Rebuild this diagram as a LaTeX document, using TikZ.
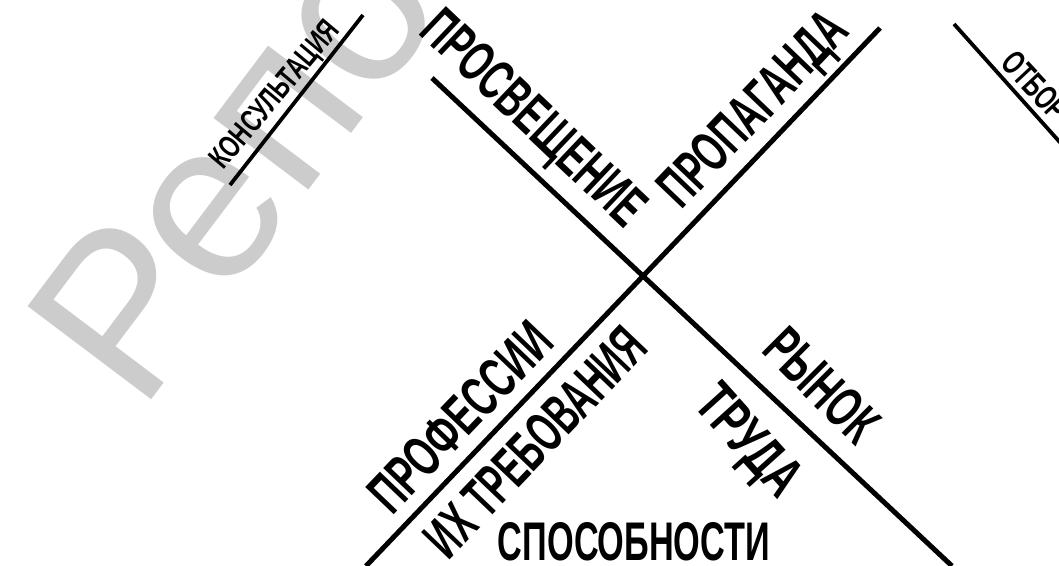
\documentclass[tikz,border=0pt]{standalone}
\usepackage{fontspec}
\setmainfont{Liberation Sans}
\usepackage{graphicx}
\newcommand\lbl[3]{\resizebox{#1pt}{#2pt}{\bfseries #3}}
\begin{document}
\begin{tikzpicture}[x=1pt,y=-1pt,
  axis/.style={line width=5pt},
  side axis/.style={line width=3.8pt},
  lab/.style={inner sep=0pt, text depth=0pt},
  wmark/.style={inner sep=0pt, text=black!20, font=\fontsize{225}{225}\selectfont}]
\useasboundingbox (0,0) rectangle (1059,565);
\clip (0,0) rectangle (1059,565);
\node[wmark, rotate=53, anchor=base west] (wm) at (140,415) {Репозиторий};
% axes
\coordinate (A1) at (432,78);  \coordinate (A2) at (952,566);
\coordinate (B1) at (366,566); \coordinate (B2) at (880,28);
\coordinate (K1) at (230,185); \coordinate (K2) at (363,15);
\coordinate (O1) at (954,24);  \coordinate (O2) at (1100,187);
\draw[axis] (A1) -- (A2);
\draw[axis] (B1) -- (B2);
\draw[side axis] (K1) -- (K2);
\draw[side axis] (O1) -- (O2);
% labels
\node[lab, rotate=50]  (kons)  at (274,94)  {\lbl{182}{22}{КОНСУЛЬТАЦИЯ}};
\node[lab, rotate=-47, anchor=west] (otbor) at (1008,56) {\lbl{80}{24}{ОТБОР}};
\node[lab, rotate=-43.5] (prosv) at (535,117) {\lbl{285}{40}{ПРОСВЕЩЕНИЕ}};
\node[lab, rotate=46.3]  (prop)  at (752,108) {\lbl{246}{40}{ПРОПАГАНДА}};
\node[lab, rotate=46.3]  (prof)  at (460,417) {\lbl{238}{40}{ПРОФЕССИИ}};
\node[lab, rotate=46.3]  (ikh)   at (535,442) {\lbl{292}{40}{ИХ ТРЕБОВАНИЯ}};
\node[lab, rotate=-45] (ryn)   at (822,385) {\lbl{135}{40}{РЫНОК}};
\node[lab, rotate=-48] (trud)  at (750,440) {\lbl{128}{40}{ТРУДА}};
\node[lab]             (spos)  at (634,541) {\lbl{272}{38}{СПОСОБНОСТИ}};
\end{tikzpicture}
\end{document}
